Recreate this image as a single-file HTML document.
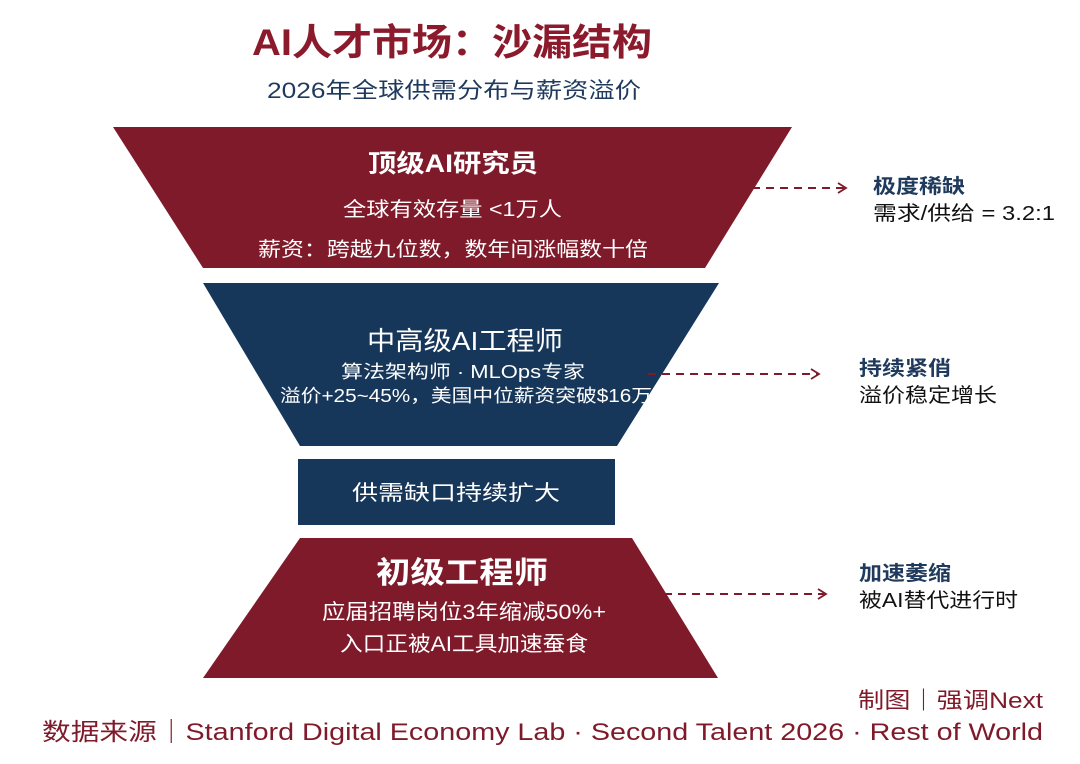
<!DOCTYPE html>
<html><head><meta charset="utf-8"><style>
body{margin:0;background:#fff}
svg text{font-family:"Liberation Sans","Noto Sans CJK SC",sans-serif}
</style></head><body>
<svg width="1080" height="759" viewBox="0 0 1080 759" xmlns="http://www.w3.org/2000/svg">
<defs><marker id="a" markerWidth="12" markerHeight="12" refX="10" refY="6" orient="auto" markerUnits="userSpaceOnUse"><path d="M2,1 L10,6 L2,11" fill="none" stroke="#7f1a2a" stroke-width="1.8"/></marker></defs>
<text x="252" y="55" textLength="400" lengthAdjust="spacingAndGlyphs" font-size="37" font-weight="bold" fill="#8a1a2c">AI人才市场：沙漏结构</text>
<text x="267" y="98" textLength="374" lengthAdjust="spacingAndGlyphs" font-size="22" fill="#1f3a5c">2026年全球供需分布与薪资溢价</text>
<polygon points="113,127 792,127 705,268 203,268" fill="#7f1a2a"/>
<polygon points="203,283 719,283 617,446 300,446" fill="#16375a"/>
<rect x="298" y="459" width="317" height="66" fill="#16375a"/>
<polygon points="300,538 632,538 718,678 203,678" fill="#7f1a2a"/>
<g fill="#fff" lengthAdjust="spacingAndGlyphs">
<text x="368" y="172" textLength="170" lengthAdjust="spacingAndGlyphs" font-size="25" font-weight="bold">顶级AI研究员</text>
<text x="343" y="216" textLength="219" lengthAdjust="spacingAndGlyphs" font-size="20">全球有效存量 &lt;1万人</text>
<text x="258" y="256" textLength="390" lengthAdjust="spacingAndGlyphs" font-size="20">薪资：跨越九位数，数年间涨幅数十倍</text>
<text x="367" y="350" textLength="196" lengthAdjust="spacingAndGlyphs" font-size="26">中高级AI工程师</text>
<text x="341" y="378" textLength="244" lengthAdjust="spacingAndGlyphs" font-size="18">算法架构师 · MLOps专家</text>
<text x="280" y="402" textLength="372" lengthAdjust="spacingAndGlyphs" font-size="18">溢价+25~45%，美国中位薪资突破$16万</text>
<text x="352" y="500" textLength="208" lengthAdjust="spacingAndGlyphs" font-size="21">供需缺口持续扩大</text>
<text x="376" y="583" textLength="172" lengthAdjust="spacingAndGlyphs" font-size="30" font-weight="bold">初级工程师</text>
<text x="322" y="619" textLength="284" lengthAdjust="spacingAndGlyphs" font-size="21">应届招聘岗位3年缩减50%+</text>
<text x="340" y="651" textLength="248" lengthAdjust="spacingAndGlyphs" font-size="21">入口正被AI工具加速蚕食</text>
</g>
<g stroke="#7f1a2a" stroke-width="2" stroke-dasharray="8,6" marker-end="url(#a)">
<line x1="682" y1="188" x2="846" y2="188"/>
<line x1="648" y1="374" x2="819" y2="374"/>
<line x1="664" y1="594" x2="826" y2="594"/>
</g>
<text x="873" y="193" textLength="92" lengthAdjust="spacingAndGlyphs" font-size="20" font-weight="bold" fill="#1f3a5c">极度稀缺</text>
<text x="873" y="220" textLength="182" lengthAdjust="spacingAndGlyphs" font-size="20" fill="#111">需求/供给 = 3.2:1</text>
<text x="859" y="375" textLength="92" lengthAdjust="spacingAndGlyphs" font-size="20" font-weight="bold" fill="#1f3a5c">持续紧俏</text>
<text x="859" y="402" textLength="138" lengthAdjust="spacingAndGlyphs" font-size="20" fill="#111">溢价稳定增长</text>
<text x="859" y="580" textLength="92" lengthAdjust="spacingAndGlyphs" font-size="20" font-weight="bold" fill="#1f3a5c">加速萎缩</text>
<text x="859" y="607" textLength="159" lengthAdjust="spacingAndGlyphs" font-size="20" fill="#111">被AI替代进行时</text>
<text x="858" y="708" textLength="185" lengthAdjust="spacingAndGlyphs" font-size="22" fill="#7f1a2a">制图｜强调Next</text>
<text x="42" y="740" textLength="1001" lengthAdjust="spacingAndGlyphs" font-size="24" fill="#7f1a2a">数据来源｜Stanford Digital Economy Lab · Second Talent 2026 · Rest of World</text>
</svg>
</body></html>
